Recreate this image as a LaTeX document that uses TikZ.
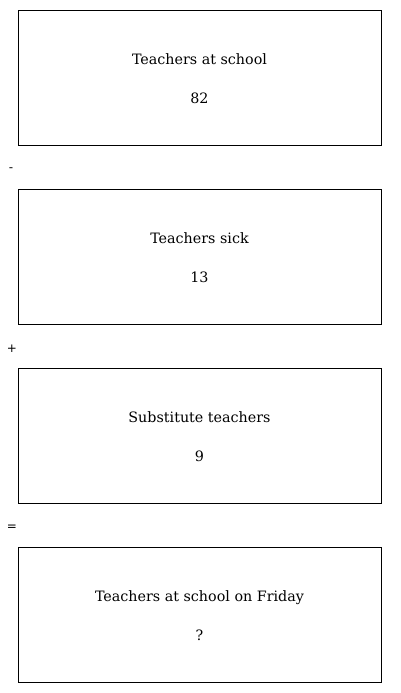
\documentclass[tikz,border=0pt]{standalone}
\usepackage{fontspec}
\newfontfamily\cardfont{DejaVu Serif}
\newfontfamily\opfont{DejaVu Sans}
\begin{document}
\begin{tikzpicture}[x=1pt,y=-1pt,
  card/.style={draw=black,line width=0.9pt,minimum width=363pt,minimum height=135pt,inner sep=0pt},
  lbl/.style={font=\cardfont\fontsize{14.3}{17}\selectfont,inner sep=0pt,anchor=base},
  op/.style={font=\opfont\fontsize{12}{14}\selectfont,inner sep=0pt}]
\useasboundingbox (0,0) rectangle (400,693);
\node[card] (b1) at (199.5,77.5) {};
\node[card] (b2) at (199.5,256.5) {};
\node[card] (b3) at (199.5,435.5) {};
\node[card] (b4) at (199.5,614.5) {};
\node[lbl] (t1) at (199.5,64.5) {Teachers at school};
\node[lbl] (v1) at (199.5,103.5) {82};
\node[lbl] (t2) at (199.5,243.5) {Teachers sick};
\node[lbl] (v2) at (199.5,282.5) {13};
\node[lbl] (t3) at (199.5,422.5) {Substitute teachers};
\node[lbl] (v3) at (199.5,461.5) {9};
\node[lbl] (t4) at (199.5,601.5) {Teachers at school on Friday};
\node[lbl] (v4) at (199.5,640.5) {?};
\node[op] (o1) at (11,170) {-};
\node[op] (o2) at (12,349) {+};
\node[op] (o3) at (12,528) {=};
\end{tikzpicture}
\end{document}
